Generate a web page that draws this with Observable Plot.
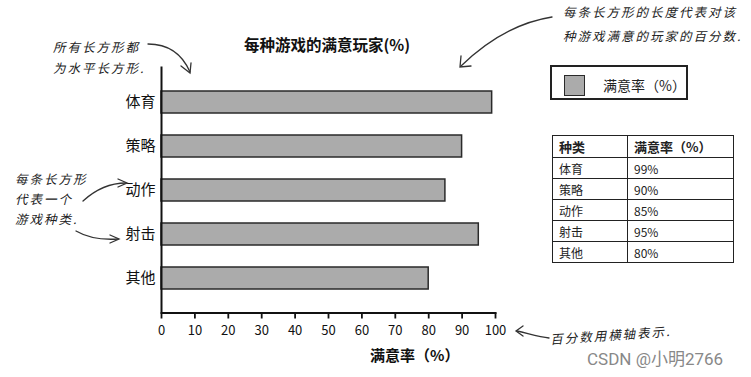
<!DOCTYPE html>
<html><head><meta charset="utf-8">
<script src="https://cdn.jsdelivr.net/npm/d3@7"></script>
<script src="https://cdn.jsdelivr.net/npm/@observablehq/plot@0.6"></script>
<style>
html,body{margin:0;padding:0;background:#fff;}
#wrap{position:relative;width:751px;height:377px;overflow:hidden;font-family:"Noto Sans CJK SC","Noto Sans",sans-serif;}
.abs{position:absolute;white-space:nowrap;}
.hand{font-family:"Noto Sans CJK SC",sans-serif;font-style:italic;font-size:12.5px;color:#222;letter-spacing:2px;font-weight:400;}
table.t{position:absolute;left:552px;top:135px;border-collapse:collapse;font-size:12px;color:#222;}
table.t td{border:1.5px solid #222;padding:0 0 0 6px;height:20px;}
</style></head>
<body><div id="wrap"></div>
<script>
const categories = ["体育","策略","动作","射击","其他"];
const satisfaction = [99, 90, 85, 95, 80];
const xTicks = [0,10,20,30,40,50,60,70,80,90,100];
const title = "每种游戏的满意玩家(%)";
const xLabel = "满意率（%）";
const legendLabel = "满意率（%）";
const tableHeader = ["种类", "满意率（%）"];

const data = categories.map((c,i)=>({category:c, value:satisfaction[i]}));

const plot = Plot.plot({
  width: 751, height: 377,
  marginLeft: 161, marginRight: 256, marginTop: 66.5, marginBottom: 64.5,
  style: {fontFamily: '"Noto Sans CJK SC","Noto Sans",sans-serif', fontSize: "13px", color: "#111", background: "transparent"},
  x: {domain: [0,100], ticks: xTicks, label: null},
  y: {domain: categories, padding: 0.5, label: null},
  marks: [
    Plot.barX(data, {x: "value", y: "category", fill: "#ababab", stroke: "#2a2a2a", strokeWidth: 1.5}),
    Plot.axisX({ticks: xTicks, tickSize: 6, tickPadding: 7, strokeWidth: 1.8, label: null, fontSize: 13}),
    Plot.axisY({tickSize: 0, tickPadding: 6, label: null, fontSize: 15}),
    Plot.ruleX([0], {stroke: "#111", strokeWidth: 2}),
    Plot.frame({anchor: "bottom", stroke: "#111", strokeWidth: 2})
  ]
});
const wrap = document.getElementById("wrap");
plot.style.position = "absolute"; plot.style.left = "0"; plot.style.top = "0";
wrap.appendChild(plot);

function add(html, css, cls){ const d=document.createElement("div"); d.className="abs "+(cls||""); d.innerHTML=html; Object.assign(d.style, css); wrap.appendChild(d); return d; }

add(title, {left:"244px", top:"33px", fontSize:"15.5px", fontWeight:"bold", color:"#111"});
add(xLabel, {left:"370px", top:"344px", fontSize:"15px", fontWeight:"bold", color:"#111"});

// legend
add('<span style="display:inline-block;width:19px;height:19px;background:#ababab;border:1.5px solid #2a2a2a;vertical-align:middle;margin-right:18px"></span><span style="vertical-align:middle">'+legendLabel+'</span>',
  {left:"550px", top:"65px", width:"122px", height:"30px", border:"2px solid #222", padding:"1px 0 0 12px", fontSize:"14px", color:"#222", lineHeight:"30px"});

// table
const tbl = document.createElement("table"); tbl.className="t";
let h = '<tr><td style="width:68px;font-weight:bold;font-size:13px;height:21px">'+tableHeader[0]+'</td><td style="width:99px;font-weight:bold;font-size:13px">'+tableHeader[1]+'</td></tr>';
categories.forEach((c,i)=>{ h += '<tr><td>'+c+'</td><td>'+satisfaction[i]+'%</td></tr>'; });
tbl.innerHTML = h; wrap.appendChild(tbl);

// handwritten annotations
add("所有长方形都<br>为水平长方形.", {left:"53px", top:"36px", lineHeight:"21px"}, "hand");
add("每条长方形的长度代表对该<br>种游戏满意的玩家的百分数.", {left:"563px", top:"0px", lineHeight:"24px"}, "hand");
add("每条长方形<br>代表一个<br>游戏种类.", {left:"15px", top:"169px", lineHeight:"20px"}, "hand");
add("百分数用横轴表示.", {left:"550px", top:"325px", transform:"rotate(-4deg)"}, "hand");
add("CSDN @小明2766", {left:"587px", top:"345px", fontSize:"17px", color:"#888", fontFamily:"Roboto,'Noto Sans CJK SC',sans-serif"});

// arrows overlay
const ns="http://www.w3.org/2000/svg";
const ov = document.createElementNS(ns,"svg");
ov.setAttribute("width",751); ov.setAttribute("height",377);
ov.style.position="absolute"; ov.style.left="0"; ov.style.top="0";
ov.innerHTML = `
<g fill="none" stroke="#333" stroke-width="1.3" stroke-linecap="round">
<path d="M148,44 C170,44 183,56 190,72"/><path d="M181,66 L190,73 L191,63"/>
<path d="M552,17 C520,22 490,38 461,66"/><path d="M461,56 L460,67 L471,66"/>
<path d="M83,201 C95,190 108,183 126,183"/><path d="M118,179 L127,183 L118,187"/>
<path d="M76,231 C88,238 102,240 118,239"/><path d="M110,235 L119,239 L110,243"/>
<path d="M549,338 C540,337 530,334 517,331"/><path d="M523,326 L516,331 L523,336"/>
</g>`;
wrap.appendChild(ov);
</script></body></html>
